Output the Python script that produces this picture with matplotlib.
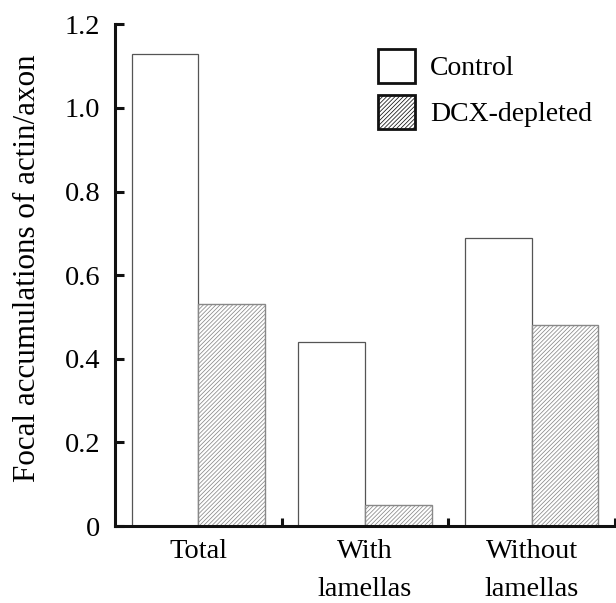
import matplotlib
matplotlib.use("Agg")
import matplotlib.pyplot as plt
from matplotlib.patches import Patch
import numpy as np

categories = ["Total", "With\nlamellas", "Without\nlamellas"]
series_names = ["Control", "DCX-depleted"]
control = [1.13, 0.44, 0.69]
dcx = [0.53, 0.05, 0.48]
yticks = [0, 0.2, 0.4, 0.6, 0.8, 1.0, 1.2]
ytick_labels = ["0", "0.2", "0.4", "0.6", "0.8", "1.0", "1.2"]
ylabel = "Focal accumulations of actin/axon"

plt.rcParams['font.family'] = ['Liberation Serif', 'DejaVu Serif']
plt.rcParams['hatch.color'] = '#8c8c8c'
plt.rcParams['hatch.linewidth'] = 0.55

W, H = 616, 603
fig = plt.figure(figsize=(W / 100, H / 100), dpi=100)
ax = fig.add_axes([115 / W, 1 - 526 / H, 500 / W, (526 - 24.3) / H])

x = np.arange(len(categories))
bw = 0.4
ax.bar(x + 0.3, control, width=bw, facecolor='white', edgecolor='#555555', linewidth=0.9, zorder=2)
ax.bar(x + 0.7, dcx, width=bw, facecolor='white', edgecolor='#888888', linewidth=1.0,
       hatch='////////', zorder=2)

ax.set_xlim(0, 3)
ax.set_ylim(0, 1.2)
for s in ['top', 'right']:
    ax.spines[s].set_visible(False)
for s in ['left', 'bottom']:
    ax.spines[s].set_linewidth(2.2)
    ax.spines[s].set_color('#111111')

ax.set_yticks(yticks)
ax.set_yticklabels(ytick_labels)
ax.tick_params(axis='y', direction='in', length=6.5, width=2.2, color='#111111',
               labelsize=20.5, pad=10.5)
ax.set_xticks([1, 2, 3])
ax.set_xticklabels([])
ax.tick_params(axis='x', which='major', direction='in', length=6, width=2.2, color='#111111')
ax.set_xticks(x + 0.5, minor=True)
ax.set_xticklabels(categories, minor=True)
ax.tick_params(axis='x', which='minor', length=0, labelsize=20.5, pad=9)
for lbl in ax.get_xticklabels(minor=True):
    lbl.set_linespacing(1.7)

ax.set_ylabel(ylabel, fontsize=22.4)
ax.yaxis.set_label_coords((42 - 115) / 500, (526 - 268.5) / (526 - 24.3))

handles = [Patch(facecolor='white', edgecolor='#111111', linewidth=2.0, label=series_names[0]),
           Patch(facecolor='white', edgecolor='#111111', linewidth=2.0, hatch='////////', label=series_names[1])]
fig.legend(handles=handles, loc='upper left', bbox_to_anchor=(378 / W, 1 - 49 / H),
           frameon=False, fontsize=20, handlelength=1.33, handleheight=1.53,
           handletextpad=0.55, labelspacing=0.41, borderpad=0, borderaxespad=0)

fig.savefig("out.png", dpi=100)
